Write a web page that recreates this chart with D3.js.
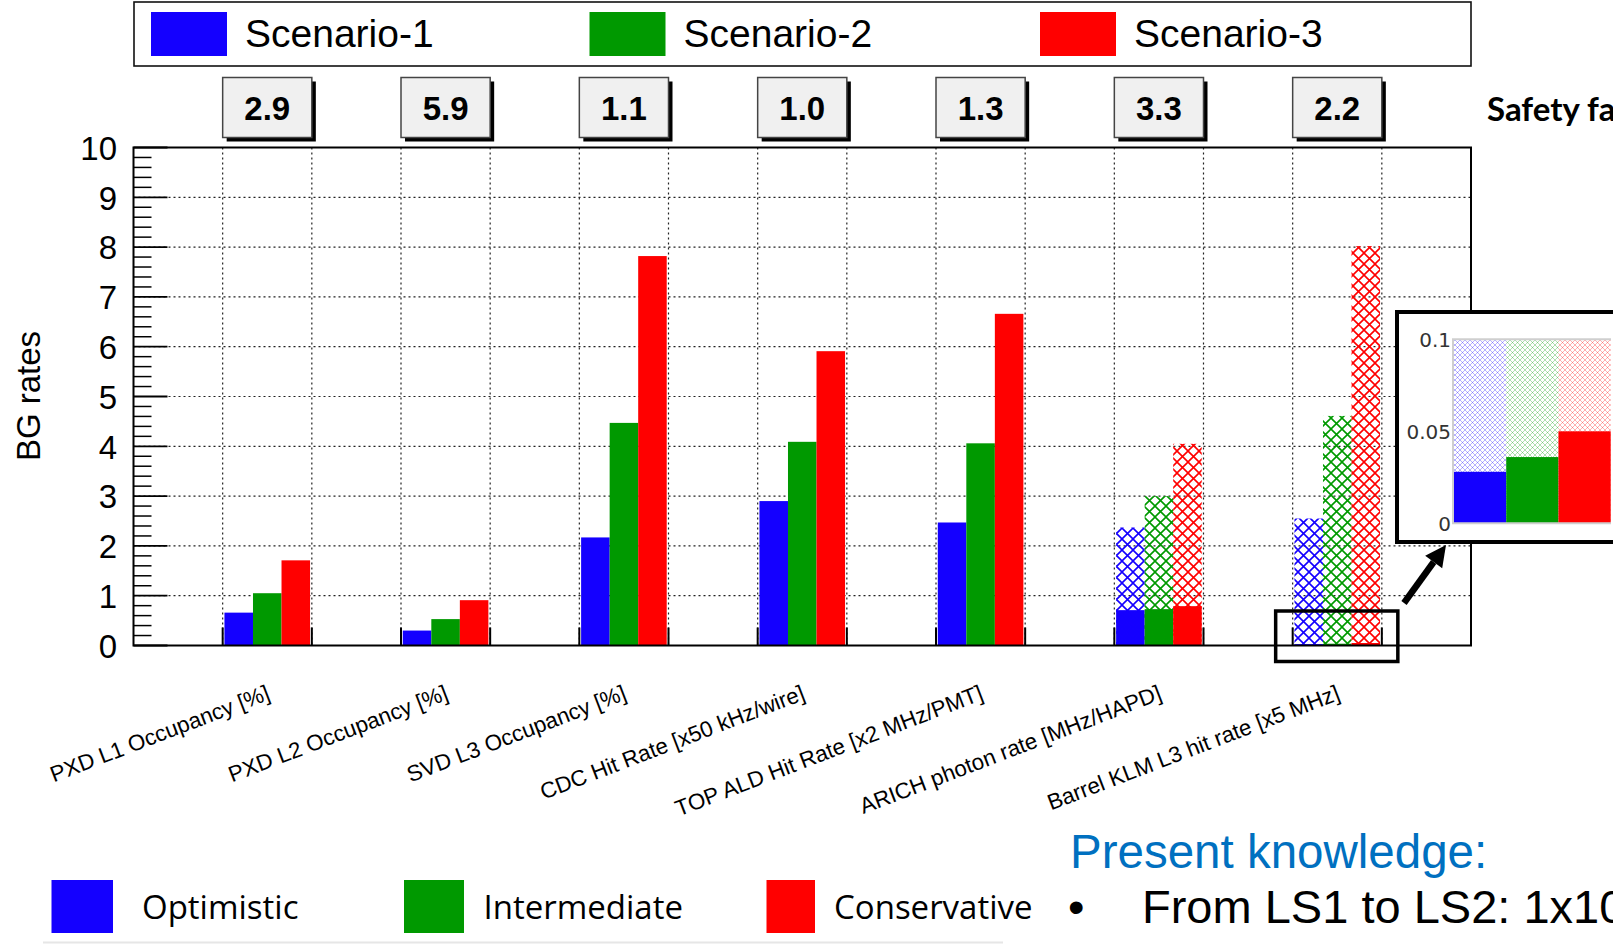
<!DOCTYPE html>
<html><head><meta charset="utf-8">
<script src="https://cdn.jsdelivr.net/npm/d3@7"></script>
<style>
body{margin:0;background:#fff;overflow:hidden}
svg{display:block}
</style>
</head><body>
<svg id="c" width="1613" height="944"></svg>
<script>
// ---------------- DATA ----------------
const categories = [
  "PXD L1 Occupancy [%]",
  "PXD L2 Occupancy [%]",
  "SVD L3 Occupancy [%]",
  "CDC Hit Rate [x50 kHz/wire]",
  "TOP ALD Hit Rate [x2 MHz/PMT]",
  "ARICH photon rate [MHz/HAPD]",
  "Barrel KLM L3 hit rate [x5 MHz]"
];
const safetyFactors = ["2.9", "5.9", "1.1", "1.0", "1.3", "3.3", "2.2"];
const seriesNames = ["Scenario-1", "Scenario-2", "Scenario-3"];
const seriesColors = ["#1400ff", "#009900", "#ff0000"];
// solid bars
const scenario1 = [0.66, 0.30, 2.17, 2.90, 2.47, 0.71, 0.028];
const scenario2 = [1.05, 0.53, 4.47, 4.09, 4.06, 0.73, 0.036];
const scenario3 = [1.71, 0.91, 7.82, 5.91, 6.66, 0.79, 0.050];
// hatched (upper range) bars
const scenario1Upper = [null, null, null, null, null, 2.37, 2.55];
const scenario2Upper = [null, null, null, null, null, 3.00, 4.61];
const scenario3Upper = [null, null, null, null, null, 4.05, 8.02];
const yTicks = [0, 1, 2, 3, 4, 5, 6, 7, 8, 9, 10];
const insetTicks = [0, 0.05, 0.1];
const insetTickLabels = ["0", "0.05", "0.1"];
const yTitle = "BG rates";
const safetyTitle = "Safety factor";
const bottomLegend = ["Optimistic", "Intermediate", "Conservative"];
const noteTitle = "Present knowledge:";
const noteBullet = "From LS1 to LS2: 1x10";

// ---------------- LAYOUT ----------------
const svg = d3.select("#c");
const X0 = 133.5, X1 = 1471, Y0 = 645.5, Y1 = 147.5;
const nBins = 15;
const x = d3.scaleLinear().domain([0, nBins]).range([X0, X1]);
const y = d3.scaleLinear().domain([0, 10]).range([Y0, Y1]);
const inner = d3.scaleBand().domain([0, 1, 2]).range([0.02, 0.98]);
const binOf = i => 2 * i + 1;
const solid = [scenario1, scenario2, scenario3];
const upper = [scenario1Upper, scenario2Upper, scenario3Upper];

const defs = svg.append("defs");
const HT = 11;
seriesColors.forEach((c, k) => {
  const p = defs.append("pattern").attr("id", "hatch" + k)
    .attr("patternUnits", "userSpaceOnUse").attr("width", HT).attr("height", HT);
  p.append("path").attr("d", `M0,0L${HT},${HT}M${HT},0L0,${HT}`)
    .attr("stroke", c).attr("stroke-width", 1.6).attr("fill", "none");
  const q = defs.append("pattern").attr("id", "fine" + k)
    .attr("patternUnits", "userSpaceOnUse").attr("width", 5).attr("height", 5);
  q.append("path").attr("d", "M0,0L5,5M5,0L0,5")
    .attr("stroke", c).attr("stroke-width", 0.9).attr("stroke-opacity", 0.35).attr("fill", "none");
});

// ---------------- TOP LEGEND ----------------
svg.append("rect").attr("x", 134).attr("y", 2).attr("width", 1337).attr("height", 64)
  .attr("fill", "#fff").attr("stroke", "#111").attr("stroke-width", 1.6);
const legX = [151, 589.5, 1040];
seriesNames.forEach((n, k) => {
  svg.append("rect").attr("x", legX[k]).attr("y", 12).attr("width", 76).attr("height", 44)
    .attr("fill", seriesColors[k]);
  svg.append("text").attr("x", legX[k] + 94).attr("y", 47)
    .attr("font-family", "Liberation Sans, Arial, sans-serif").attr("font-size", 39)
    .attr("fill", "#000").text(n);
});

// ---------------- SAFETY FACTOR BOXES ----------------
safetyFactors.forEach((s, i) => {
  const bx = x(binOf(i)), bw = x(binOf(i) + 1) - x(binOf(i));
  svg.append("rect").attr("x", bx + 4).attr("y", 81.5).attr("width", bw).attr("height", 60)
    .attr("fill", "#000");
  svg.append("rect").attr("x", bx).attr("y", 77.5).attr("width", bw).attr("height", 60)
    .attr("fill", "#f0f0f0").attr("stroke", "#444").attr("stroke-width", 1.5);
  svg.append("text").attr("x", bx + bw / 2).attr("y", 120).attr("text-anchor", "middle")
    .attr("font-family", "Liberation Sans, Arial, sans-serif").attr("font-weight", "bold")
    .attr("font-size", 33).attr("fill", "#000").text(s);
});
svg.append("text").attr("x", 1487).attr("y", 121)
  .attr("font-family", "Lato, 'DejaVu Sans', sans-serif").attr("font-weight", "bold")
  .attr("font-size", 33).attr("fill", "#000").text(safetyTitle);

// ---------------- GRID ----------------
const grid = svg.append("g").attr("stroke", "#222").attr("stroke-width", 1.2)
  .attr("stroke-dasharray", "2,3");
yTicks.filter(t => t > 0 && t < 10).forEach(t => {
  grid.append("line").attr("x1", X0).attr("x2", X1).attr("y1", y(t)).attr("y2", y(t));
});
d3.range(1, nBins).forEach(b => {
  grid.append("line").attr("x1", x(b)).attr("x2", x(b)).attr("y1", Y1).attr("y2", Y0);
});

// ---------------- BARS ----------------
const bars = svg.append("g");
categories.forEach((c, i) => {
  const b0 = binOf(i), bw = x(b0 + 1) - x(b0);
  [0, 1, 2].forEach(k => {
    const bx = x(b0) + inner(k) * bw, w = inner.bandwidth() * bw;
    const v = solid[k][i];
    bars.append("rect").attr("x", bx).attr("width", w)
      .attr("y", y(v)).attr("height", Math.max(Y0 - y(v), 1.5))
      .attr("fill", seriesColors[k]);
    const u = upper[k][i];
    if (u != null) {
      bars.append("rect").attr("x", bx).attr("width", w)
        .attr("y", y(u)).attr("height", Y0 - y(u))
        .attr("fill", "url(#hatch" + k + ")");
    }
  });
});

// ---------------- AXES ----------------
const ax = svg.append("g").attr("stroke", "#000");
d3.range(0, 10.001, 0.2).forEach(t => {
  const major = Math.abs(t - Math.round(t)) < 1e-6;
  ax.append("line").attr("x1", X0).attr("x2", X0 + (major ? 34 : 18))
    .attr("y1", y(t)).attr("y2", y(t)).attr("stroke-width", major ? 1.8 : 1.5);
});
d3.range(1, nBins).forEach(b => {
  ax.append("line").attr("x1", x(b)).attr("x2", x(b)).attr("y1", Y0).attr("y2", Y0 - 18)
    .attr("stroke-width", 2);
});
svg.append("rect").attr("x", X0).attr("y", Y1).attr("width", X1 - X0).attr("height", Y0 - Y1)
  .attr("fill", "none").attr("stroke", "#000").attr("stroke-width", 2);

const yAxis = d3.axisLeft(y).tickValues(yTicks).tickSize(0).tickPadding(0).tickFormat(d3.format("d"));
const yg = svg.append("g").attr("transform", `translate(${117},0)`).call(yAxis);
yg.select(".domain").remove();
yg.selectAll("text").attr("font-family", "Liberation Sans, Arial, sans-serif")
  .attr("font-size", 33).attr("fill", "#000").attr("dy", "0.36em");

svg.append("text").attr("transform", "translate(40,396) rotate(-90)")
  .attr("text-anchor", "middle").attr("font-family", "Liberation Sans, Arial, sans-serif")
  .attr("font-size", 33).attr("fill", "#000").text(yTitle);

// x labels
categories.forEach((c, i) => {
  const cx = x(binOf(i) + 0.5) + 4;
  svg.append("text").attr("transform", `translate(${cx},699) rotate(-21)`)
    .attr("text-anchor", "end").attr("font-family", "Liberation Sans, Arial, sans-serif")
    .attr("font-size", 22.3).attr("fill", "#000").text(c);
});

// ---------------- HIGHLIGHT + ARROW ----------------
const klm = categories.length - 1;
svg.append("rect").attr("x", x(binOf(klm)) - 17).attr("y", 611)
  .attr("width", x(binOf(klm) + 1) - x(binOf(klm)) + 33).attr("height", 50.5)
  .attr("fill", "none").attr("stroke", "#000").attr("stroke-width", 3.5);
(function () {
  const tail = [1404, 603], tip = [1446, 545];
  const dx = tip[0] - tail[0], dy = tip[1] - tail[1], L = Math.hypot(dx, dy);
  const ux = dx / L, uy = dy / L, px = -uy, py = ux;
  const hl = 21, hw = 10.5;
  const bc = [tip[0] - hl * ux, tip[1] - hl * uy];
  svg.append("line").attr("x1", tail[0]).attr("y1", tail[1]).attr("x2", bc[0]).attr("y2", bc[1])
    .attr("stroke", "#000").attr("stroke-width", 6.5);
  svg.append("path").attr("d", d3.line()([tip, [bc[0] + hw * px, bc[1] + hw * py], [bc[0] - hw * px, bc[1] - hw * py]]) + "Z")
    .attr("fill", "#000");
})();

// ---------------- INSET ----------------
svg.append("rect").attr("x", 1397).attr("y", 312).attr("width", 260).attr("height", 230)
  .attr("fill", "#fff").attr("stroke", "#000").attr("stroke-width", 4);
const iy = d3.scaleLinear().domain([0, 0.1]).range([523.3, 339.3]).clamp(true);
const ix = d3.scaleBand().domain([0, 1, 2]).range([1454, 1610.7]);
[0, 1, 2].forEach(k => {
  const u = upper[k][klm];
  svg.append("rect").attr("x", ix(k)).attr("width", ix.bandwidth())
    .attr("y", iy(u)).attr("height", iy(0) - iy(u)).attr("fill", "url(#fine" + k + ")");
  const v = solid[k][klm];
  svg.append("rect").attr("x", ix(k)).attr("width", ix.bandwidth())
    .attr("y", iy(v)).attr("height", iy(0) - iy(v)).attr("fill", seriesColors[k]);
});
svg.append("path").attr("d", `M1611,${iy(0.1)}H1453V${iy(0)}H1611`)
  .attr("fill", "none").attr("stroke", "#cfcfcf").attr("stroke-width", 2);
insetTicks.forEach((t, j) => {
  svg.append("text").attr("x", 1451).attr("y", iy(t)).attr("dy", "0.36em")
    .attr("text-anchor", "end").attr("font-family", "DejaVu Sans, sans-serif")
    .attr("font-size", 20).attr("fill", "#333").text(insetTickLabels[j]);
});

// ---------------- BOTTOM LEGEND + NOTES ----------------
const bl = [[51.5, 61.5, 142], [404, 60, 483.5], [766.5, 48.5, 834]];
bottomLegend.forEach((n, k) => {
  svg.append("rect").attr("x", bl[k][0]).attr("y", 880).attr("width", bl[k][1]).attr("height", 53)
    .attr("fill", seriesColors[k]);
  svg.append("text").attr("x", bl[k][2]).attr("y", 919)
    .attr("font-family", "Open Sans, sans-serif").attr("font-size", 33)
    .attr("fill", "#000").text(n);
});
svg.append("line").attr("x1", 43).attr("x2", 1003).attr("y1", 942.5).attr("y2", 942.5)
  .attr("stroke", "#e6e6e6").attr("stroke-width", 2);
svg.append("text").attr("x", 1070).attr("y", 868)
  .attr("font-family", "Liberation Sans, Arial, sans-serif").attr("font-size", 47.5)
  .attr("fill", "#0070c0").text(noteTitle);
svg.append("text").attr("x", 1068).attr("y", 923)
  .attr("font-family", "Liberation Sans, Arial, sans-serif").attr("font-size", 47)
  .attr("fill", "#000").text("\u2022");
svg.append("text").attr("x", 1142).attr("y", 923)
  .attr("font-family", "Liberation Sans, Arial, sans-serif").attr("font-size", 47)
  .attr("fill", "#000").text(noteBullet);
</script>
</body></html>
